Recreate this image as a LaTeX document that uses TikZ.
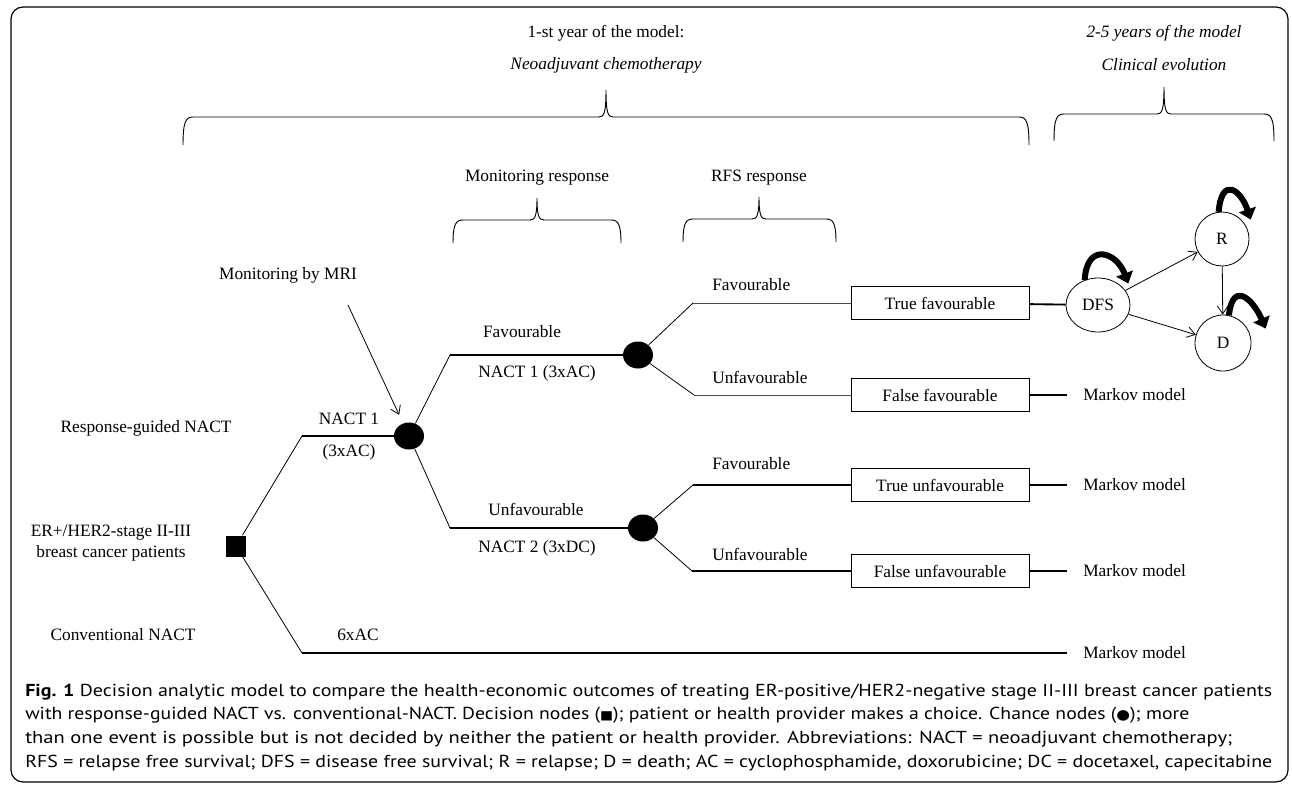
\documentclass[tikz,border=0pt]{standalone}
\usepackage{fontspec}
\usepackage{graphicx}
\setmainfont{Liberation Serif}
\newfontfamily\capfont{PT Sans}
\newfontfamily\symfont{DejaVu Sans}
\usetikzlibrary{shapes.geometric,arrows.meta}
\newcommand\mybrace[6]{%
  \draw[bracepath] (#1,#6) .. controls (#1,#4+4) and (#1+3,#4) .. (#1+10,#4) -- (#3-7,#4) .. controls (#3-2,#4) and (#3,#4-4) .. (#3,#5) .. controls (#3,#4-4) and (#3+2,#4) .. (#3+7,#4) -- (#2-10,#4) .. controls (#2-3,#4) and (#2,#4+4) .. (#2,#6);}
\begin{document}
\begin{tikzpicture}[x=0.75pt,y=-0.75pt,
  txt/.style={inner sep=0pt, font=\fontsize{13}{15.75}\selectfont},
  itxt/.style={inner sep=0pt, font=\fontsize{13}{15.75}\selectfont\itshape},
  chance/.style={ellipse, fill=black, minimum width=22.5pt, minimum height=20.25pt, inner sep=0pt},
  decision/.style={rectangle, fill=black, minimum width=15pt, minimum height=15.75pt, inner sep=0pt},
  outcome/.style={rectangle, draw, line width=0.6pt, minimum width=133.5pt, minimum height=24.75pt, inner sep=0pt, font=\fontsize{13}{15.75}\selectfont},
  state/.style={draw, line width=0.6pt, inner sep=0pt, font=\fontsize{13}{15.75}\selectfont},
  thinl/.style={line width=0.6pt},
  thickl/.style={line width=1.4pt},
  greyl/.style={line width=0.6pt, black!70},
  arr/.style={line width=0.6pt, -{Straight Barb[length=6pt,width=8pt]}},
  selfloop/.style={line width=4.5pt, -{Triangle[length=8pt,width=13pt]}},
  bracepath/.style={line width=0.7pt},
  capline/.style={anchor=base west, inner sep=0pt, font=\fontsize{13}{15}\capfont}
]
\useasboundingbox (0,0) rectangle (1292,785);
\draw[line width=0.9pt, rounded corners=9pt] (11,7) rectangle (1288,782);

% headings and braces
\node[txt] (t1) at (606,33) {1-st year of the model:};
\node[itxt] (t2) at (606,65) {Neoadjuvant chemotherapy};
\node[itxt] (t3) at (1164,33) {2-5 years of the model};
\node[itxt] (t4) at (1164,65) {Clinical evolution};
\mybrace{183}{1029}{606}{117}{90}{145}
\mybrace{1054}{1274}{1164}{114}{87}{141}
\node[txt] (t5) at (537,178) {Monitoring response};
\node[txt] (t6) at (759,178) {RFS response};
\mybrace{453}{621}{537}{220}{198}{243}
\mybrace{683}{836}{759}{219}{197}{242}

% tree nodes
\node[decision] (D0) at (236,546) {};
\node[chance] (C1) at (409,436) {};
\node[chance] (C2) at (638,355) {};
\node[chance] (C3) at (643,528) {};
\coordinate (k0) at (302,653);
\coordinate (k1) at (302,436);
\coordinate (k2) at (450,355);
\coordinate (k3) at (450,528);
\coordinate (k4) at (693,303);
\coordinate (k5) at (694,395);
\coordinate (k6) at (693,485);
\coordinate (k7) at (692,571);
\node[outcome] (TF) at (940,303) {True favourable};
\node[outcome] (FF) at (940,395) {False favourable};
\node[outcome] (TU) at (940,485) {True unfavourable};
\node[outcome] (FU) at (940,571) {False unfavourable};
\node[state, ellipse, minimum width=48pt, minimum height=40.5pt] (DFS) at (1098,305) {DFS};
\node[state, circle, minimum size=40.5pt] (R) at (1222,239) {R};
\node[state, circle, minimum size=42pt] (D) at (1223,343) {D};
\node[txt, anchor=west] (M1) at (1083,395) {Markov model};
\node[txt, anchor=west] (M2) at (1083,485) {Markov model};
\node[txt, anchor=west] (M3) at (1083,571) {Markov model};
\node[txt, anchor=west] (M4) at (1083,653) {Markov model};

% labels
\node[txt] (L1) at (146,428) {Response-guided NACT};
\node[txt, align=center] (L2) at (111,543) {ER+/HER2-stage II-III\\breast cancer patients};
\node[txt] (L3) at (123,635) {Conventional NACT};
\node[txt] (L4) at (358,635) {6xAC};
\node[txt] (L5) at (349,419) {NACT 1};
\node[txt] (L6) at (349,452) {(3xAC)};
\node[txt] (L7) at (522,332) {Favourable};
\node[txt] (L8) at (537,373) {NACT 1 (3xAC)};
\node[txt] (L9) at (536,509) {Unfavourable};
\node[txt] (L10) at (537,548) {NACT 2 (3xDC)};
\node[txt, anchor=west] (L11) at (712,285) {Favourable};
\node[txt, anchor=west] (L12) at (712,377) {Unfavourable};
\node[txt, anchor=west] (L13) at (712,464) {Favourable};
\node[txt, anchor=west] (L14) at (712,554) {Unfavourable};
\node[txt] (MRI) at (288,275) {Monitoring by MRI};
\coordinate (mriS) at (348,305);

% connectors
\draw[thinl] (D0) -- (k1);
\draw[thickl] (k1) -- (C1);
\draw[thinl] (D0) -- (k0);
\draw[thickl, shorten >=12pt] (k0) -- (M4.west);
\draw[thinl] (C1) -- (k2);
\draw[thickl] (k2) -- (C2);
\draw[thinl] (C1) -- (k3);
\draw[thickl] (k3) -- (C3);
\draw[thinl] (C2) -- (k4);
\draw[greyl] (k4) -- (TF);
\draw[thinl] (C2) -- (k5);
\draw[greyl] (k5) -- (FF);
\draw[thinl] (C3) -- (k6);
\draw[thickl] (k6) -- (TU);
\draw[thinl] (C3) -- (k7);
\draw[thickl] (k7) -- (FU);
\draw[thickl] (TF) -- (DFS);
\draw[thickl, shorten >=12pt] (FF.east) -- (M1.west);
\draw[thickl, shorten >=12pt] (TU.east) -- (M2.west);
\draw[thickl, shorten >=12pt] (FU.east) -- (M3.west);

\draw[arr, shorten >=7pt] (mriS) -- (C1);
\draw[arr] (DFS) -- (R);
\draw[arr] (DFS) -- (D);
\draw[arr] (R) -- (D);

% self loops
\draw[selfloop] (DFS.118) .. controls +(2,-38) and +(-12,-32) .. ([xshift=4pt,yshift=3pt]DFS.35);
\draw[selfloop] (R.97) .. controls +(3,-36) and +(-10,-30) .. ([xshift=7pt]R.45);
\draw[selfloop] (D.78) .. controls +(4,-36) and +(-12,-28) .. ([xshift=12pt,yshift=3.5pt]D.20);

% caption
\node[capline] (cap1) at (25,696) {\resizebox{935.25pt}{\height}{\textbf{Fig. 1} Decision analytic model to compare the health-economic outcomes of treating ER-positive/HER2-negative stage II-III breast cancer patients}};
\node[capline] (cap2) at (25,719.5) {\resizebox{873pt}{\height}{with response-guided NACT vs. conventional-NACT. Decision nodes ({\symfont\scalebox{0.7}{■}}); patient or health provider makes a choice. Chance nodes ({\symfont\scalebox{0.8}{●}}); more}};
\node[capline] (cap3) at (25,743) {\resizebox{905.25pt}{\height}{than one event is possible but is not decided by neither the patient or health provider. Abbreviations: NACT = neoadjuvant chemotherapy;}};
\node[capline] (cap4) at (25,767) {\resizebox{935.25pt}{\height}{RFS = relapse free survival; DFS = disease free survival; R = relapse; D = death; AC = cyclophosphamide, doxorubicine; DC = docetaxel, capecitabine}};
\end{tikzpicture}
\end{document}
